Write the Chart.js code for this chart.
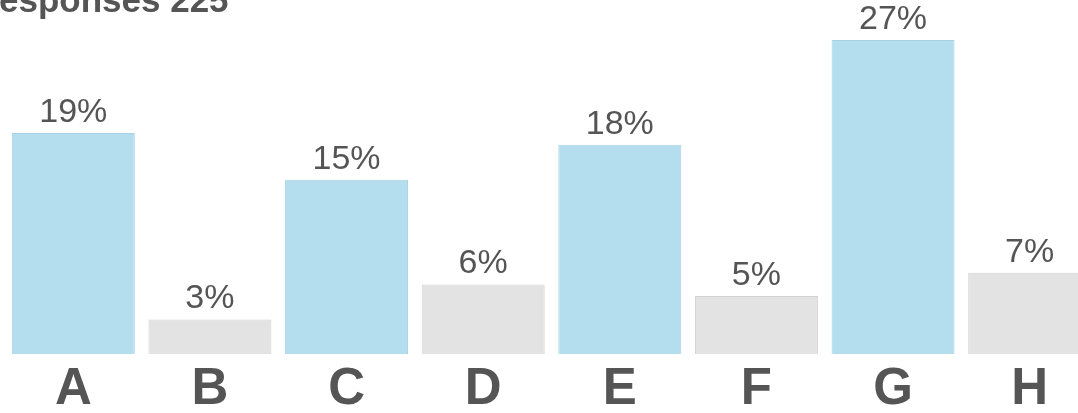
<!DOCTYPE html>
<html>
<head>
<meta charset="utf-8">
<script src="https://cdn.jsdelivr.net/npm/chart.js@4"></script>
<style>
  html, body { margin: 0; padding: 0; background: #fff; overflow: hidden; }
  #wrap { position: absolute; left: 0; top: 0; width: 1100px; height: 413px; }
</style>
</head>
<body>
<div id="wrap"><canvas id="myChart"></canvas></div>
<script>
// data
const categories = ['A', 'B', 'C', 'D', 'E', 'F', 'G', 'H'];
const shares = [19, 3, 15, 6, 18, 5, 27, 7];
const titleText = 'Responses 225';

const blue = '#b4dded', blueEdge = '#a6d2e4';
const grey = '#e3e3e3', greyEdge = '#d2d2d2';

// title sits partly off the canvas in the reference
const titlePlugin = {
  id: 'clippedTitle',
  afterDraw(chart) {
    const ctx = chart.ctx;
    ctx.save();
    ctx.font = 'bold 35px "Liberation Sans", Arial, sans-serif';
    ctx.fillStyle = '#555';
    ctx.textBaseline = 'alphabetic';
    ctx.textAlign = 'left';
    ctx.fillText(titleText, -1 - ctx.measureText('R').width, 12);
    ctx.restore();
  }
};

// percent labels above each bar
const valueLabels = {
  id: 'valueLabels',
  afterDatasetsDraw(chart) {
    const ctx = chart.ctx;
    const meta = chart.getDatasetMeta(0);
    ctx.save();
    ctx.font = '34px "Liberation Sans", Arial, sans-serif';
    ctx.fillStyle = '#555';
    ctx.textAlign = 'center';
    ctx.textBaseline = 'alphabetic';
    meta.data.forEach((bar, i) => {
      ctx.fillText(shares[i] + '%', bar.x, bar.y - 11);
    });
    ctx.restore();
  }
};

new Chart(document.getElementById('myChart'), {
  type: 'bar',
  data: {
    labels: categories,
    datasets: [{
      data: shares,
      backgroundColor: shares.map((v, i) => i % 2 ? grey : blue),
      borderColor: shares.map((v, i) => i % 2 ? greyEdge : blueEdge),
      borderWidth: 1,
      categoryPercentage: 1,
      barPercentage: 0.9
    }]
  },
  options: {
    responsive: true,
    maintainAspectRatio: false,
    animation: false,
    layout: { padding: { left: 5, right: 2, top: 5, bottom: -12 } },
    plugins: { legend: { display: false }, tooltip: { enabled: false }, title: { display: false } },
    scales: {
      x: {
        grid: { display: false, drawTicks: false },
        border: { display: false },
        ticks: {
          padding: 5,
          color: '#555',
          font: { family: '"Liberation Sans", Arial, sans-serif', size: 51, weight: 'bold', lineHeight: 1.19 }
        }
      },
      y: {
        display: false,
        min: 0,
        max: 30
      }
    }
  },
  plugins: [titlePlugin, valueLabels]
});
</script>
</body>
</html>
